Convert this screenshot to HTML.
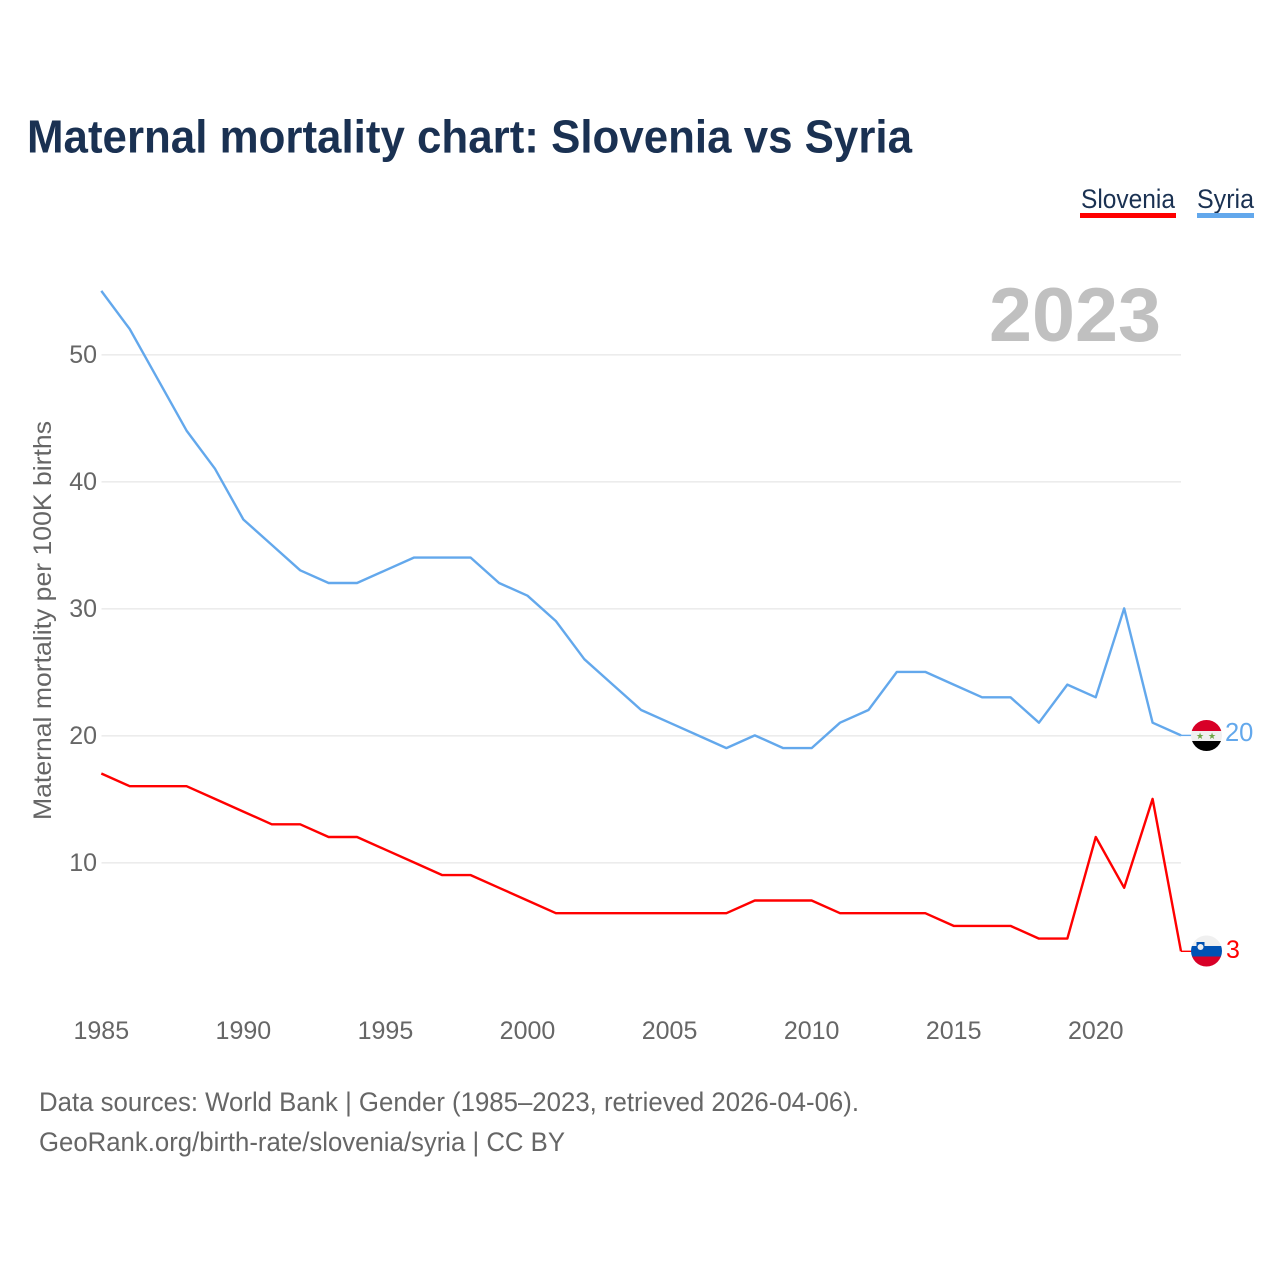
<!DOCTYPE html>
<html lang="en">
<head>
<meta charset="utf-8">
<title>Maternal mortality chart: Slovenia vs Syria</title>
<style>
html,body{margin:0;padding:0;background:#fff}
svg{display:block;font-family:"Liberation Sans",sans-serif}
</style>
</head>
<body>
<svg id="chart" width="1280" height="1280" viewBox="0 0 1280 1280" xmlns="http://www.w3.org/2000/svg">
  <defs>
    <clipPath id="clip-syria"><circle cx="1206.5" cy="735.5" r="15.500"/></clipPath>
    <clipPath id="clip-slovenia"><circle cx="1206.5" cy="951" r="15.500"/></clipPath>
  </defs>
  <rect width="1280" height="1280" fill="#fff"/>
  <text x="27" y="152.500" font-size="46" font-weight="700" fill="#1a3152" textLength="885" lengthAdjust="spacingAndGlyphs">Maternal mortality chart: Slovenia vs Syria</text>

  <g>
    <g>
      <text x="1081" y="208" font-size="27" fill="#1a3152" textLength="94" lengthAdjust="spacingAndGlyphs">Slovenia</text>
      <rect x="1080" y="213" width="96" height="5" fill="#ff0000"/>
    </g>
    <g>
      <text x="1197" y="208" font-size="27" fill="#1a3152" textLength="57" lengthAdjust="spacingAndGlyphs">Syria</text>
      <rect x="1197" y="213" width="57" height="5" fill="#63a8ec"/>
    </g>
  </g>

  <g id="grid"></g>
  <g id="y-ticks"></g>
  <g id="x-ticks"></g>

  <text transform="translate(51,820) rotate(-90)" font-size="25" fill="#666666" textLength="399" lengthAdjust="spacingAndGlyphs">Maternal mortality per 100K births</text>

  <text x="989" y="341" font-size="76" font-weight="700" fill="#c0c0c0" textLength="172" lengthAdjust="spacingAndGlyphs">2023</text>

  <g id="series"></g>

  <g clip-path="url(#clip-syria)">
    <rect x="1190" y="719" width="33" height="12" fill="#d80027"/>
    <rect x="1190" y="731" width="33" height="10" fill="#f0f0f0"/>
    <rect x="1190" y="741" width="33" height="11" fill="#000000"/>
    <text x="1200" y="739" font-size="9" fill="#6da544" text-anchor="middle" font-family="'DejaVu Sans',sans-serif">★</text>
    <text x="1212" y="739" font-size="9" fill="#6da544" text-anchor="middle" font-family="'DejaVu Sans',sans-serif">★</text>
  </g>
  <g clip-path="url(#clip-slovenia)">
    <rect x="1190" y="935" width="33" height="11" fill="#f0f0f0"/>
    <rect x="1190" y="946" width="33" height="10.500" fill="#0052b4"/>
    <rect x="1190" y="956.500" width="33" height="11" fill="#d80027"/>
    <path d="M1196.500 942h8v7q-4 3-8 0z" fill="#0052b4"/>
    <circle cx="1200.500" cy="947" r="3" fill="#f0f0f0"/>
  </g>

  <text x="1225" y="741" font-size="25.500" fill="#63a8ec">20</text>
  <text x="1226" y="958" font-size="25" fill="#ff0000">3</text>

  <text x="39" y="1111" font-size="27" fill="#666666" textLength="820" lengthAdjust="spacingAndGlyphs">Data sources: World Bank | Gender (1985–2023, retrieved 2026-04-06).</text>
  <text x="39" y="1151" font-size="27" fill="#666666" textLength="526" lengthAdjust="spacingAndGlyphs">GeoRank.org/birth-rate/slovenia/syria | CC BY</text>
</svg>
<script>
const years = [1985,1986,1987,1988,1989,1990,1991,1992,1993,1994,1995,1996,1997,1998,1999,2000,2001,2002,2003,2004,2005,2006,2007,2008,2009,2010,2011,2012,2013,2014,2015,2016,2017,2018,2019,2020,2021,2022,2023];
const syriaValues = [55,52,48,44,41,37,35,33,32,32,33,34,34,34,32,31,29,26,24,22,21,20,19,20,19,19,21,22,25,25,24,23,23,21,24,23,30,21,20];
const sloveniaValues = [17,16,16,16,15,14,13,13,12,12,11,10,9,9,8,7,6,6,6,6,6,6,6,7,7,7,6,6,6,6,5,5,5,4,4,12,8,15,3];
const yTicks = [10,20,30,40,50];
const xTicks = [1985,1990,1995,2000,2005,2010,2015,2020];

const NS = 'http://www.w3.org/2000/svg';
function xScale(year) { return 101.3 + (year - 1985) * (1181 - 101.3) / 38; }
function yScale(v) { return 989.4 - v * 12.7; }
function make(tag, attrs, parent) {
  const el = document.createElementNS(NS, tag);
  for (const k in attrs) el.setAttribute(k, attrs[k]);
  parent.appendChild(el);
  return el;
}

const grid = document.getElementById('grid');
const yGroup = document.getElementById('y-ticks');
const xGroup = document.getElementById('x-ticks');
const seriesGroup = document.getElementById('series');

yTicks.forEach(function (t) {
  const line = make('line', {x1: 101.5, x2: 1181, y1: yScale(t) + 0.4, y2: yScale(t) + 0.4, stroke: '#ececec', 'stroke-width': 1.6}, grid);
  
  
  const label = make('text', {x: 97, y: yScale(t) + 8.6, 'font-size': 25, fill: '#666666', 'text-anchor': 'end'}, yGroup);
  
  
  label.textContent = t;
});

xTicks.forEach(function (t) {
  const label = make('text', {x: xScale(t), y: 1039, 'font-size': 25, fill: '#666666', 'text-anchor': 'middle'}, xGroup);
  
  
  label.textContent = t;
});

function drawSeries(values, color, name) {
  const pts = values.map(function (v, i) { return xScale(years[i]).toFixed(2) + ',' + yScale(v).toFixed(2); });
  const line = make('polyline', {points: pts.join(' '), fill: 'none', stroke: color, 'stroke-width': 2.4, 'stroke-linejoin': 'round'}, seriesGroup);
  
  
  const last = values[values.length - 1];
  const lastX = xScale(years[years.length - 1]);
  const connector = make('line', {x1: lastX, x2: lastX + 11, y1: yScale(last), y2: yScale(last), stroke: color, 'stroke-width': 1.4}, seriesGroup);
  
  
}
drawSeries(syriaValues, '#63a8ec', 'syria');
drawSeries(sloveniaValues, '#ff0000', 'slovenia');
</script>
</body>
</html>
